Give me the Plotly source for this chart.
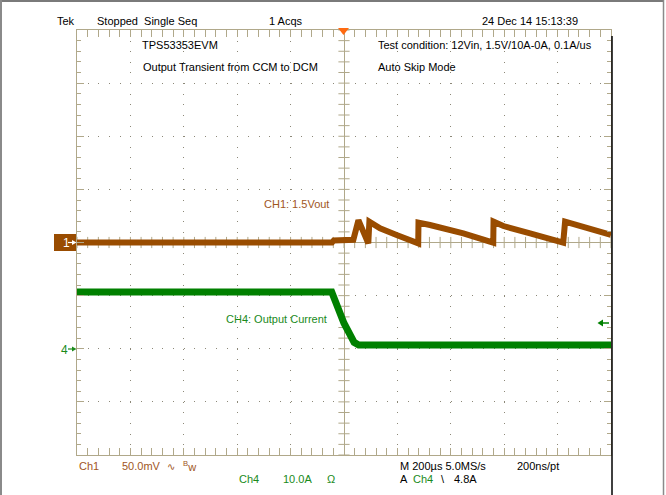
import numpy as np
import plotly.graph_objects as go

# Channel 1: output voltage ripple (AC coupled, mV), time in microseconds
ch1_t = [-1000, -45, -38, 0, 35, 54, 72, 91,
         95, 135, 197, 278,
         279, 322, 447, 559,
         560, 597, 697, 821,
         828, 871, 1000]
ch1_mv = [0.0, 0.0, 2.0, 2.0, 2.5, 21.0, 8.9, -0.8,
          19.6, 13.3, 7.1, -0.8,
          18.7, 16.5, 8.6, -0.2,
          19.6, 15.5, 8.6, -0.2,
          19.6, 16.5, 7.1]

# Channel 4: output current (A)
ch4_t = [-1000, -46, 0, 38, 55, 1000]
ch4_a = [10.7, 10.7, 4.8, 1.2, 0.7, 0.7]

# Vertical settings: 8 divisions, ch1 50 mV/div at centre, ch4 10 A/div two divisions below centre
ch1_range = [-200, 200]
ch4_range = [-20, 60]
time_range = [-1000, 1000]

BROWN = "#994c00"
GREEN = "#008000"
TAN = "#b0a88a"
DOT = "#8c8878"
FONT = "Liberation Sans, Arial, sans-serif"
SYM_FONT = "DejaVu Sans"

L, R, T, B = 77, 611, 30, 455
W, H = 666, 495


def px_x(px):
    return (px - L) / (R - L)


def px_y(py):
    return (B - py) / (B - T)


fig = go.Figure()

# tick marks crossing the centre graticule lines
cx = np.arange(time_range[0], time_range[1] + 1, 40)
cy = np.arange(ch1_range[0], ch1_range[1] + 1, 10)
fig.add_trace(go.Scatter(x=cx, y=np.zeros_like(cx), mode="markers", hoverinfo="skip",
                         marker=dict(symbol="line-ns", size=8, line=dict(color=TAN, width=1)),
                         showlegend=False, cliponaxis=False))
fig.add_trace(go.Scatter(x=np.zeros_like(cy), y=cy, mode="markers", hoverinfo="skip",
                         marker=dict(symbol="line-ew", size=8, line=dict(color=TAN, width=1)),
                         showlegend=False, cliponaxis=False))

fig.add_trace(go.Scatter(x=ch4_t, y=ch4_a, mode="lines", yaxis="y2",
                         line=dict(color=GREEN, width=7), showlegend=False))
fig.add_trace(go.Scatter(x=ch1_t, y=ch1_mv, mode="lines",
                         line=dict(color=BROWN, width=6), showlegend=False))

fig.update_layout(
    width=W, height=H,
    margin=dict(l=L, r=W - R, t=T, b=H - B),
    paper_bgcolor="white", plot_bgcolor="white",
    font=dict(family=FONT, size=11, color="black"),
    xaxis=dict(range=time_range, dtick=200, tick0=0, showticklabels=False,
               ticks="inside", ticklen=7, tickcolor=TAN, tickwidth=1,
               showline=True, linecolor=TAN, linewidth=1, mirror="allticks",
               showgrid=True, gridcolor=DOT, gridwidth=1, griddash="1px,9.62px",
               zeroline=True, zerolinecolor=TAN, zerolinewidth=1,
               minor=dict(dtick=40, ticklen=4, tickcolor=TAN, ticks="inside", showgrid=False)),
    yaxis=dict(range=ch1_range, dtick=50, tick0=0, showticklabels=False,
               ticks="inside", ticklen=7, tickcolor=TAN, tickwidth=1,
               showline=True, linecolor=TAN, linewidth=1, mirror="allticks",
               showgrid=True, gridcolor=DOT, gridwidth=1, griddash="1px,9.68px",
               zeroline=True, zerolinecolor=TAN, zerolinewidth=1,
               minor=dict(dtick=10, ticklen=4, tickcolor=TAN, ticks="inside", showgrid=False)),
    yaxis2=dict(range=ch4_range, overlaying="y", visible=False),
)

shapes = []
# outer frame
shapes.append(dict(type="line", xref="paper", yref="paper", x0=px_x(0), x1=px_x(664),
                   y0=px_y(1), y1=px_y(1), line=dict(color="#7a7a7a", width=2)))
shapes.append(dict(type="line", xref="paper", yref="paper", x0=px_x(1), x1=px_x(1),
                   y0=px_y(0), y1=px_y(W), line=dict(color="#8a8a8a", width=2)))
shapes.append(dict(type="line", xref="paper", yref="paper", x0=px_x(663.5), x1=px_x(663.5),
                   y0=px_y(0), y1=px_y(W), line=dict(color="#8a8a8a", width=1.5)))
# black edge on the right of the graticule
shapes.append(dict(type="line", xref="paper", yref="paper", x0=px_x(612), x1=px_x(612),
                   y0=px_y(36), y1=px_y(495), line=dict(color="black", width=1.5)))
# trigger position marker
shapes.append(dict(type="path", xref="paper", yref="paper",
                   path=f"M {px_x(338)},{px_y(28)} L {px_x(349)},{px_y(28)} L {px_x(343.5)},{px_y(35)} Z",
                   fillcolor="#ff6a10", line=dict(color="#ff6a10", width=0)))
# ch1 position marker box
shapes.append(dict(type="rect", xref="paper", yref="paper", x0=px_x(54), x1=px_x(76),
                   y0=px_y(251), y1=px_y(234), fillcolor=BROWN, line=dict(width=0)))
# small position arrows pointing into the graticule
for yy, col in ((242.5, "white"), (349, "#1a8a1a")):
    shapes.append(dict(type="line", xref="paper", yref="paper", x0=px_x(68), x1=px_x(73),
                       y0=px_y(yy), y1=px_y(yy), line=dict(color=col, width=1.2)))
    shapes.append(dict(type="path", xref="paper", yref="paper",
                       path=f"M {px_x(72)},{px_y(yy - 2.5)} L {px_x(76.5)},{px_y(yy)} L {px_x(72)},{px_y(yy + 2.5)} Z",
                       fillcolor=col, line=dict(width=0)))
# trigger level arrow on the right edge
shapes.append(dict(type="line", xref="paper", yref="paper", x0=px_x(600), x1=px_x(609),
                   y0=px_y(323), y1=px_y(323), line=dict(color=GREEN, width=1.5)))
shapes.append(dict(type="path", xref="paper", yref="paper",
                   path=f"M {px_x(603)},{px_y(319.5)} L {px_x(597.5)},{px_y(323)} L {px_x(603)},{px_y(326.5)} Z",
                   fillcolor=GREEN, line=dict(width=0)))
fig.update_layout(shapes=shapes)


def label(text, x, y, color="black", anchor="left", size=11, family=FONT):
    fig.add_annotation(text=text, x=px_x(x), y=px_y(y), xref="paper", yref="paper",
                       xanchor=anchor, yanchor="middle", showarrow=False,
                       font=dict(family=family, size=size, color=color))


CH1_TXT = "#a0561e"
CH4_TXT = "#1a8a1a"

label("Tek", 55, 21)
label("Stopped  Single Seq", 95, 21)
label("1 Acqs", 267, 21)
label("24 Dec 14 15:13:39", 480, 21)
label("TPS53353EVM", 140, 45)
label("Output Transient from CCM to DCM", 141, 67)
label("Test condition: 12Vin, 1.5V/10A-0A, 0.1A/us", 376, 45)
label("Auto Skip Mode", 376, 67)
label("CH1: 1.5Vout", 331, 204, CH1_TXT, anchor="right")
label("CH4: Output Current", 329, 319, CH4_TXT, anchor="right")

label("1", 61, 242.5, "white", size=12)
label("4", 59, 350, CH4_TXT, size=12)

label("Ch1", 77, 466, CH1_TXT)
label("50.0mV", 120, 466, CH1_TXT)
label("∿", 165, 466, CH1_TXT, size=10, family=SYM_FONT)
label("<sup>B</sup>w", 181, 466, CH1_TXT)
label("Ch4", 237, 479, CH4_TXT)
label("10.0A", 281, 479, CH4_TXT)
label("Ω", 325, 479, CH4_TXT)
label("M 200µs 5.0MS/s", 398, 466)
label("200ns/pt", 515, 466)
label("A", 398, 479)
label("Ch4", 411, 479, CH4_TXT)
label("\\", 439, 479)
label("4.8A", 452, 479)

fig.write_html("out.html")
